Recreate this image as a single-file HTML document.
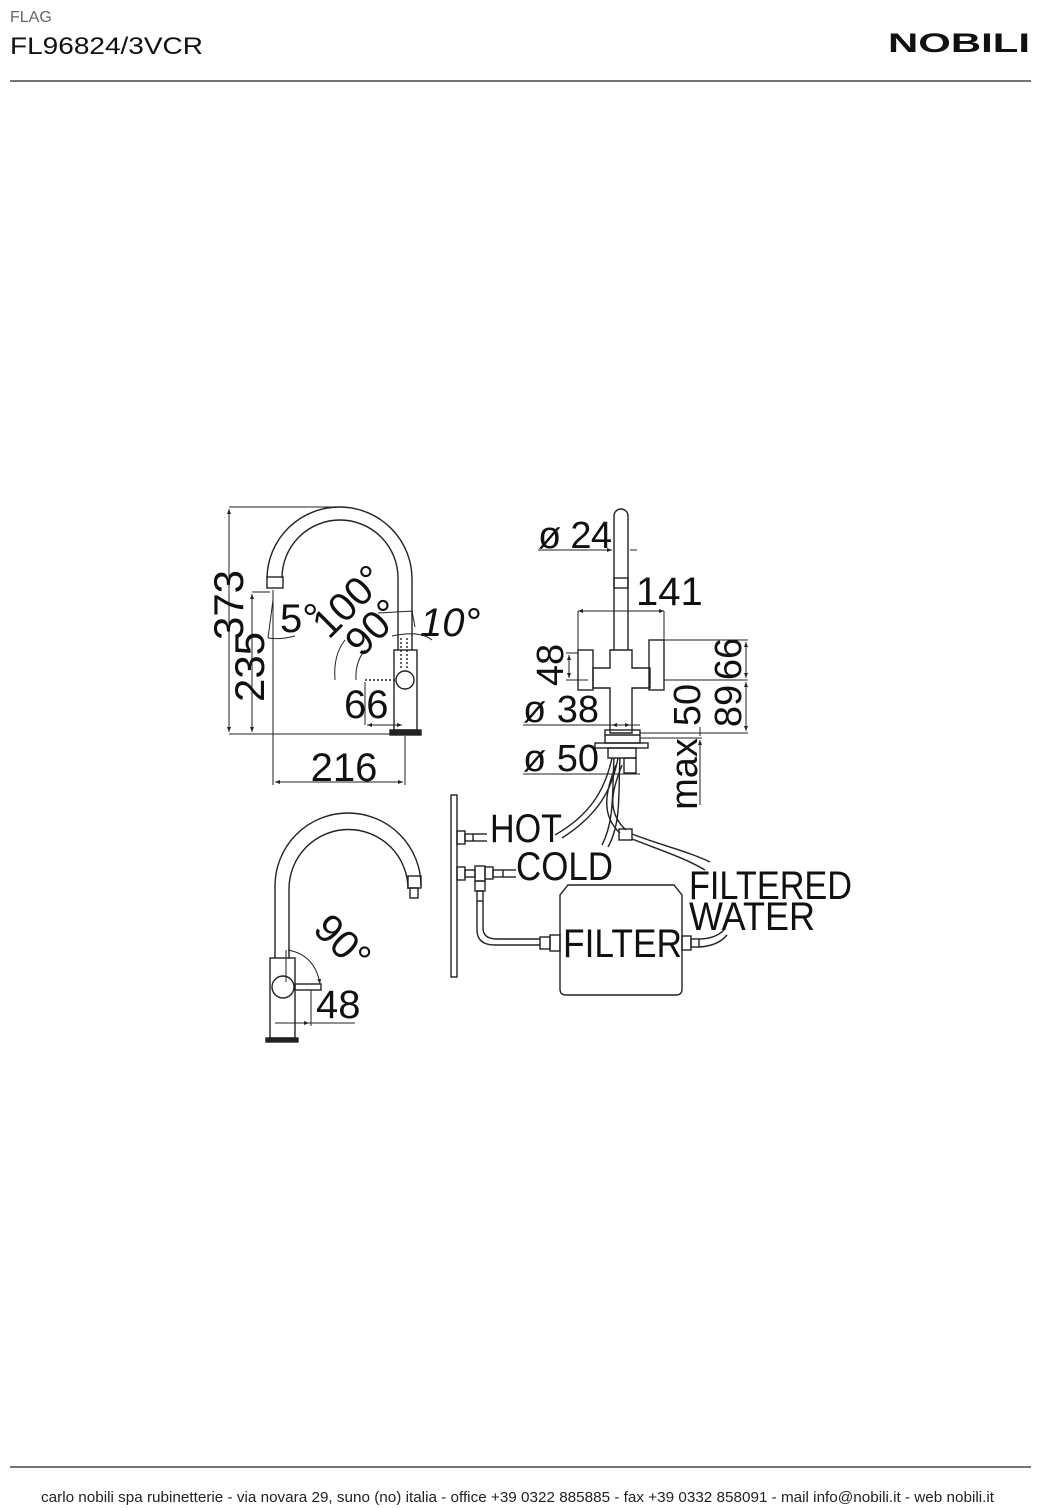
<!DOCTYPE html>
<html><head><meta charset="utf-8"><style>
html,body{margin:0;padding:0;background:#fff;}
svg{display:block;}
text{font-family:"Liberation Sans",Arial,sans-serif;fill:#111;}
</style></head><body>
<svg width="1039" height="1508" viewBox="0 0 1039 1508" xmlns="http://www.w3.org/2000/svg">
<defs>
<marker id="a" viewBox="0 0 10 10" refX="10" refY="5" markerWidth="5" markerHeight="5" orient="auto-start-reverse"><path d="M0,1 L10,5 L0,9 z" fill="#222"/></marker>
</defs>
<!-- header -->
<text x="10" y="22" font-size="16" style="fill:#666">FLAG</text>
<text x="10" y="54" font-size="24" textLength="193" lengthAdjust="spacingAndGlyphs">FL96824/3VCR</text>
<text x="888" y="52" font-size="27" font-weight="bold" textLength="142" lengthAdjust="spacingAndGlyphs">NOBILI</text>
<line x1="10" y1="81" x2="1031" y2="81" stroke="#222" stroke-width="1.2"/>
<line x1="10" y1="1467" x2="1031" y2="1467" stroke="#222" stroke-width="1.2"/>
<text x="41" y="1502" font-size="15" textLength="953" lengthAdjust="spacingAndGlyphs" style="fill:#222">carlo nobili spa rubinetterie - via novara 29, suno (no) italia - office +39 0322 885885 - fax +39 0332 858091 - mail info@nobili.it - web nobili.it</text>

<g fill="none" stroke="#222" stroke-width="1.4">
<!-- ===== Drawing 1: side view ===== -->
<path d="M267,578 A72.5,72 0 0 1 412,580 L412,650"/>
<path d="M282,578 A58,58 0 0 1 398,578 L398,650"/>
<rect x="267" y="577" width="16" height="11"/>
<rect x="394" y="650" width="23" height="80"/>
<rect x="390" y="730" width="31" height="5" fill="#222"/>
<circle cx="405" cy="680" r="9"/>
<line x1="401" y1="638" x2="401" y2="668" stroke-dasharray="2,2"/>
<line x1="407" y1="638" x2="407" y2="668" stroke-dasharray="2,2"/>
<line x1="365" y1="680" x2="395" y2="680" stroke-dasharray="2,2"/>
<!-- dims -->
<line x1="229" y1="507" x2="340" y2="507" stroke-width="1"/>
<line x1="229" y1="509" x2="229" y2="732" stroke-width="1" marker-start="url(#a)" marker-end="url(#a)"/>
<line x1="229" y1="734" x2="400" y2="734" stroke-width="1"/>
<line x1="252" y1="592" x2="270" y2="592" stroke-width="1"/>
<line x1="252" y1="594" x2="252" y2="732" stroke-width="1" marker-start="url(#a)" marker-end="url(#a)"/>
<line x1="273" y1="590" x2="273" y2="785" stroke-width="1"/>
<line x1="405" y1="736" x2="405" y2="785" stroke-width="1"/>
<line x1="275" y1="782" x2="403" y2="782" stroke-width="1" marker-start="url(#a)" marker-end="url(#a)"/>
<line x1="365" y1="682" x2="365" y2="725" stroke-width="1"/>
<line x1="367" y1="725" x2="402" y2="725" stroke-width="1" marker-start="url(#a)" marker-end="url(#a)"/>
<path d="M273,600 L268,638" stroke-width="1"/>
<path d="M268,638 Q280,640 295,636" stroke-width="1"/>
<path d="M335,680 Q333,655 345,640" stroke-width="1"/>
<path d="M356,680 Q355,662 365,650" stroke-width="1"/>
<path d="M378,613 L413,611" stroke-width="1"/>
<path d="M412,611 L415,627" stroke-width="1"/>
<path d="M392,636 Q420,630 432,640" stroke-width="1"/>

<!-- ===== Drawing 2: front view ===== -->
<path d="M614,650 L614,516 A7,7 0 0 1 628,516 L628,650"/>
<rect x="614" y="578" width="14" height="10"/>
<path d="M610,650 L632,650 L632,668 L650,668 L650,688 L632,688 L632,733 L610,733 L610,688 L593,688 L593,668 L610,668 Z"/>
<rect x="578" y="650" width="15" height="40"/>
<rect x="649" y="640" width="15" height="50"/>
<rect x="605" y="730" width="35" height="13"/>
<line x1="605" y1="735" x2="640" y2="735"/>
<rect x="595" y="743" width="53" height="5"/>
<rect x="608" y="748" width="28" height="10"/>
<rect x="624" y="758" width="12" height="15"/>
<!-- hoses -->
<path d="M612,758 C605,790 590,815 555,835"/>
<path d="M618,758 C612,790 598,815 562,838"/>
<path d="M614,758 C612,790 615,820 602,845"/>
<path d="M620,758 C618,790 622,822 608,847"/>
<path d="M616,765 C606,790 600,815 620,833"/>
<path d="M622,765 C612,790 606,812 626,830"/>
<rect x="619" y="829" width="13" height="11"/>
<path d="M632,834 C660,845 690,852 710,862"/>
<path d="M632,839 C660,850 685,858 705,870"/>
<!-- dims -->
<line x1="538" y1="550" x2="612" y2="550" stroke-width="1" marker-end="url(#a)"/>
<line x1="630" y1="550" x2="637" y2="550" stroke-width="1"/>
<line x1="578" y1="611" x2="664" y2="611" stroke-width="1" marker-start="url(#a)" marker-end="url(#a)"/>
<line x1="578" y1="611" x2="578" y2="650" stroke-width="1"/>
<line x1="664" y1="611" x2="664" y2="640" stroke-width="1"/>
<line x1="566" y1="653" x2="578" y2="653" stroke-width="1"/>
<line x1="569" y1="655" x2="569" y2="678" stroke-width="1" marker-start="url(#a)" marker-end="url(#a)"/>
<line x1="566" y1="680" x2="588" y2="680" stroke-width="1"/>
<line x1="664" y1="640" x2="748" y2="640" stroke-width="1"/>
<line x1="664" y1="680" x2="748" y2="680" stroke-width="1"/>
<line x1="640" y1="733" x2="748" y2="733" stroke-width="1"/>
<line x1="746" y1="642" x2="746" y2="678" stroke-width="1" marker-start="url(#a)" marker-end="url(#a)"/>
<line x1="746" y1="682" x2="746" y2="731" stroke-width="1" marker-start="url(#a)" marker-end="url(#a)"/>
<line x1="523" y1="725" x2="640" y2="725" stroke-width="1"/>
<line x1="612" y1="725" x2="630" y2="725" stroke-width="1" marker-start="url(#a)" marker-end="url(#a)"/>
<line x1="523" y1="774" x2="640" y2="774" stroke-width="1"/>
<line x1="640" y1="738" x2="702" y2="738" stroke-width="1"/>
<line x1="700" y1="740" x2="700" y2="805" stroke-width="1" marker-start="url(#a)"/>
<line x1="700" y1="727" x2="700" y2="736" stroke-width="1"/>

<!-- ===== Drawing 3: bottom view ===== -->
<path d="M275,958 L275,886 A73,73 0 0 1 421,886"/>
<path d="M289,958 L289,889 A59.5,59.5 0 0 1 408,889"/>
<rect x="408" y="876" width="13" height="12"/>
<rect x="410" y="888" width="8" height="10"/>
<rect x="270" y="958" width="25" height="80"/>
<rect x="266" y="1038" width="32" height="4" fill="#222"/>
<circle cx="283" cy="987" r="11"/>
<rect x="295" y="984" width="26" height="6"/>
<line x1="286" y1="950" x2="286" y2="982" stroke-width="1"/>
<path d="M288,950 Q315,955 320,984" stroke-width="1" marker-end="url(#a)"/>
<line x1="311" y1="990" x2="311" y2="1026" stroke-width="1"/>
<line x1="283" y1="1023" x2="309" y2="1023" stroke-width="1" marker-end="url(#a)"/>
<line x1="275" y1="1023" x2="355" y2="1023" stroke-width="1"/>
<!-- wall -->
<rect x="451" y="795" width="6" height="182"/>
<rect x="457" y="831" width="8" height="13"/>
<rect x="465" y="834" width="8" height="7"/>
<line x1="473" y1="834" x2="487" y2="834"/><line x1="473" y1="841" x2="487" y2="841"/>
<rect x="457" y="867" width="8" height="13"/>
<rect x="465" y="870" width="10" height="7"/>
<rect x="475" y="866" width="10" height="15"/>
<rect x="485" y="867" width="8" height="12"/>
<rect x="493" y="870" width="10" height="7"/>
<line x1="503" y1="870" x2="516" y2="870"/><line x1="503" y1="877" x2="516" y2="877"/>
<rect x="475" y="881" width="10" height="10"/>
<rect x="477" y="891" width="6" height="10"/>
<path d="M477,901 L477,930 Q477,945 495,945 L540,945"/>
<path d="M483,901 L483,928 Q483,939 497,939 L540,939"/>
<rect x="540" y="937" width="10" height="12"/>
<rect x="550" y="935" width="10" height="16"/>
<!-- filter -->
<path d="M568,885 L674,885 L682,895 L682,989 Q682,995 676,995 L566,995 Q560,995 560,989 L560,895 Z"/>
<rect x="682" y="936" width="9" height="14"/>
<rect x="691" y="939" width="8" height="8"/>
<path d="M699,939 Q715,939 724,930"/>
<path d="M699,947 Q718,946 727,935"/>
</g>

<!-- texts drawing 1 -->
<g font-size="42">
<text transform="translate(243,605) rotate(-90)" text-anchor="middle" textLength="70">373</text>
<text transform="translate(264,667) rotate(-90)" text-anchor="middle" textLength="70">235</text>
<text x="280" y="632" font-size="40">5°</text>
<text transform="translate(358,611) rotate(-45)" text-anchor="middle" font-size="40">100°</text>
<text transform="translate(383,637) rotate(-45)" text-anchor="middle" font-size="40">90°</text>
<text x="420" y="636" font-size="40" font-style="italic">10°</text>
<text x="344" y="718" font-size="40">66</text>
<text x="344" y="781" font-size="40" text-anchor="middle">216</text>
</g>
<!-- texts drawing 2 -->
<g font-size="38">
<text x="538" y="548" textLength="74">ø 24</text>
<text x="636" y="605" font-size="40">141</text>
<text transform="translate(563,665) rotate(-90)" text-anchor="middle">48</text>
<text x="523" y="722" textLength="76">ø 38</text>
<text x="523" y="771" textLength="76">ø 50</text>
<text transform="translate(700,705) rotate(-90)" text-anchor="middle">50</text>
<text transform="translate(741,659) rotate(-90)" text-anchor="middle">66</text>
<text transform="translate(741,706) rotate(-90)" text-anchor="middle">89</text>
<text transform="translate(697,774) rotate(-90)" text-anchor="middle">max</text>
</g>
<!-- texts drawing 3 -->
<g font-size="40">
<text transform="translate(333,952) rotate(45)" text-anchor="middle">90°</text>
<text x="316" y="1018">48</text>
<text x="490" y="842" textLength="72" lengthAdjust="spacingAndGlyphs">HOT</text>
<text x="516" y="880" textLength="97" lengthAdjust="spacingAndGlyphs">COLD</text>
<text x="563" y="957" textLength="119" lengthAdjust="spacingAndGlyphs">FILTER</text>
<text x="689" y="899" textLength="163" lengthAdjust="spacingAndGlyphs">FILTERED</text>
<text x="689" y="930" textLength="126" lengthAdjust="spacingAndGlyphs">WATER</text>
</g>
</svg>
</body></html>
